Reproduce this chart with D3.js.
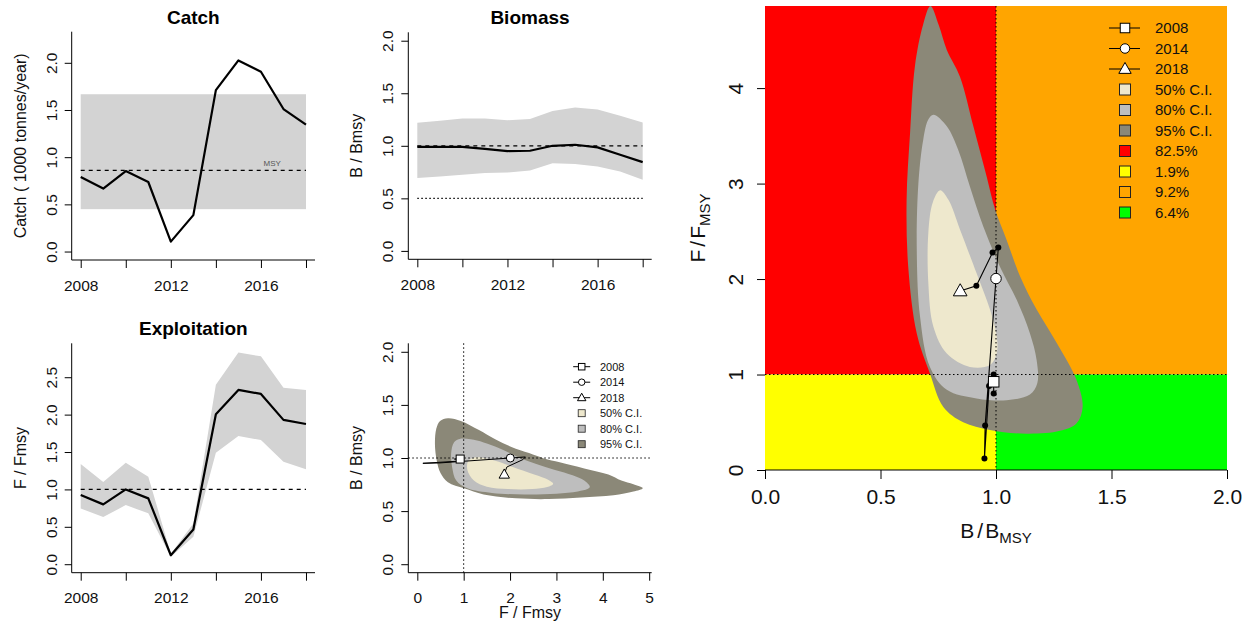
<!DOCTYPE html>
<html><head><meta charset="utf-8">
<script src="https://cdn.jsdelivr.net/npm/d3@7"></script>
<style>
html,body{margin:0;padding:0;background:#fff;}
svg{display:block;}
</style></head>
<body>
<svg id="chart" width="1250" height="623"></svg>
<script>
// ---------------- data ----------------
const years = [2008,2009,2010,2011,2012,2013,2014,2015,2016,2017,2018];
const catchVals = [0.79,0.667,0.853,0.737,0.105,0.386,1.71,2.025,1.905,1.51,1.344];
const msy = 0.86;
const msyLo = 0.449;
const msyHi = 1.667;
const bRatio = [0.99,0.99,0.99,0.97,0.95,0.953,1.0,1.01,0.985,0.915,0.845];
const bLo = [0.693,0.709,0.724,0.74,0.746,0.765,0.835,0.828,0.803,0.756,0.677];
const bHi = [1.219,1.238,1.26,1.26,1.244,1.254,1.332,1.364,1.345,1.285,1.222];
const fRatio = [0.924,0.80,1.0,0.88,0.12,0.465,2.005,2.33,2.277,1.93,1.875];
const fLo = [0.746,0.63,0.79,0.68,0.10,0.366,1.49,1.714,1.66,1.37,1.27];
const fHi = [1.34,1.10,1.357,1.17,0.14,0.545,2.40,2.83,2.78,2.36,2.33];

// Kobe confidence regions, [B/Bmsy, F/Fmsy]
const ci95 = [[0.716,4.86],[0.752,4.66],[0.787,4.40],[0.844,4.12],[0.902,3.60],[0.96,3.07],[0.996,2.73],[1.046,2.41],[1.104,2.03],[1.176,1.68],[1.263,1.33],[1.349,0.94],[1.375,0.66],[1.349,0.49],[1.277,0.41],[1.133,0.38],[0.974,0.42],[0.858,0.50],[0.772,0.66],[0.714,1.01],[0.657,1.43],[0.620,2.13],[0.613,2.83],[0.628,3.53],[0.649,4.23],[0.684,4.66]];
const ci80 = [[0.729,3.72],[0.787,3.60],[0.837,3.35],[0.887,2.97],[0.945,2.55],[1.017,2.13],[1.09,1.78],[1.147,1.43],[1.176,1.15],[1.179,0.91],[1.147,0.79],[1.046,0.73],[0.916,0.75],[0.787,0.84],[0.714,1.08],[0.671,1.61],[0.657,2.31],[0.664,3.0],[0.685,3.46],[0.707,3.67]];
const ci50 = [[0.758,2.93],[0.794,2.83],[0.844,2.52],[0.916,2.06],[0.974,1.68],[1.003,1.40],[1.003,1.22],[0.974,1.10],[0.887,1.08],[0.787,1.22],[0.729,1.50],[0.707,1.96],[0.707,2.48],[0.726,2.80]];

const markYears = [2008,2014,2018];
const markLabels = ["2008","2014","2018"];
const ciLabels = ["50% C.I.","80% C.I.","95% C.I."];
const zoneLabels = ["82.5%","1.9%","9.2%","6.4%"];

const yearTicks = [2008,2010,2012,2014,2016,2018];
const yearTickLabels = ["2008","","2012","","2016",""];
const catchTicks = [0,0.5,1,1.5,2];
const bTicks = [0,0.5,1,1.5,2];
const fTicks = [0,0.5,1,1.5,2,2.5];
const kobeFTicks = [0,1,2,3,4,5];
const bigBTicks = [0,0.5,1,1.5,2];
const bigFTicks = [0,1,2,3,4];

// ---------------- styles ----------------
const FONT = "'Liberation Sans', Arial, Helvetica, sans-serif";
const TXT = "#111";
const BAND = "#d3d3d3";
const ciColors = ["#EEE8CD","#BEBEBE","#8B8878"];
const zoneColors = ["#FF0000","#FFFF00","#FFA500","#00FF00"];

const svg = d3.select("#chart");
const expand = d => { const r = d[1]-d[0]; return [d[0]-0.04*r, d[1]+0.04*r]; };
const fmt1 = d3.format(".1f");

function makeScales(p, xd, yd){
  return { x: d3.scaleLinear().domain(xd).range([p.x0,p.x1]),
           y: d3.scaleLinear().domain(yd).range([p.y1,p.y0]) };
}
function lBox(p){
  svg.append("path").attr("d",`M${p.x0},${p.y0}V${p.y1}H${p.x1}`)
    .attr("fill","none").attr("stroke","#000").attr("stroke-width",1);
}
function bottomAxis(s,p,vals,labels,fs,off,len){
  const ax = d3.axisBottom(s.x).tickValues(vals).tickFormat((d,i)=>labels[i]).tickSize(len).tickSizeOuter(0);
  const g = svg.append("g").attr("transform",`translate(0,${p.y1})`).call(ax);
  g.select(".domain").remove();
  g.selectAll(".tick line").attr("stroke","#000");
  g.selectAll(".tick text").attr("y",off).attr("dy",null).attr("font-size",fs)
    .attr("font-family",FONT).attr("fill",TXT);
  return g;
}
function leftAxis(s,p,vals,labels,fs,off,len){
  const ax = d3.axisLeft(s.y).tickValues(vals).tickFormat((d,i)=>labels[i]).tickSize(len).tickSizeOuter(0);
  const g = svg.append("g").attr("transform",`translate(${p.x0},0)`).call(ax);
  g.select(".domain").remove();
  g.selectAll(".tick line").attr("stroke","#000");
  g.selectAll(".tick text").attr("x",null).attr("dy",null).attr("text-anchor","middle")
    .attr("transform",`translate(${-off},0) rotate(-90)`)
    .attr("font-size",fs).attr("font-family",FONT).attr("fill",TXT);
  return g;
}
function label(x,y,str,fs,opts={}){
  const t = svg.append("text").attr("x",x).attr("y",y).text(str)
    .attr("font-size",fs).attr("font-family",FONT).attr("fill",opts.fill||TXT)
    .attr("text-anchor",opts.anchor||"middle");
  if(opts.bold) t.attr("font-weight","bold");
  if(opts.rotate) t.attr("transform",`rotate(-90,${x},${y})`);
  return t;
}
function hline(s,y,x0,x1,dash,w){
  svg.append("line").attr("x1",s.x(x0)).attr("x2",s.x(x1)).attr("y1",s.y(y)).attr("y2",s.y(y))
    .attr("stroke","#000").attr("stroke-width",w||1).attr("stroke-dasharray",dash);
}
function marker(g,type,x,y,sz){
  if(type==="square"){
    g.append("rect").attr("x",x-sz/2).attr("y",y-sz/2).attr("width",sz).attr("height",sz)
      .attr("fill","#fff").attr("stroke","#000").attr("stroke-width",1);
  } else if(type==="circle"){
    g.append("circle").attr("cx",x).attr("cy",y).attr("r",sz/2)
      .attr("fill","#fff").attr("stroke","#000").attr("stroke-width",1);
  } else {
    const w = sz*1.3, h = sz*1.15;
    g.append("path").attr("d",`M${x},${y-h*0.6}L${x+w/2},${y+h*0.4}L${x-w/2},${y+h*0.4}Z`)
      .attr("fill","#fff").attr("stroke","#000").attr("stroke-width",1);
  }
}
const markTypes = ["square","circle","triangle"];

// ================= Catch =================
{
  const p = {x0:71.7,x1:315,y0:31.7,y1:260};
  const s = makeScales(p, expand([2008,2018]), expand([0,2.24]));
  svg.append("rect").attr("x",s.x(years[0])).attr("width",s.x(years[years.length-1])-s.x(years[0]))
    .attr("y",s.y(msyHi)).attr("height",s.y(msyLo)-s.y(msyHi)).attr("fill",BAND);
  hline(s,msy,years[0],years[years.length-1],"4,4",1.2);
  label(s.x(2016.5), s.y(msy)-4, "MSY", 8, {fill:"#555"});
  svg.append("path").datum(catchVals)
    .attr("d", d3.line().x((d,i)=>s.x(years[i])).y(d=>s.y(d)))
    .attr("fill","none").attr("stroke","#000").attr("stroke-width",2.2).attr("stroke-linejoin","round");
  lBox(p);
  bottomAxis(s,p,yearTicks,yearTickLabels,15.5,30.5,8);
  leftAxis(s,p,catchTicks,catchTicks.map(fmt1),15.5,15,7);
  label((p.x0+p.x1)/2, 24, "Catch", 19, {bold:true, fill:"#000"});
  label(26, (p.y0+p.y1)/2, "Catch ( 1000 tonnes/year)", 16, {rotate:true});
}

// ================= Biomass =================
{
  const p = {x0:408.3,x1:651.7,y0:32.3,y1:259.3};
  const s = makeScales(p, expand([2008,2018]), expand([0,2]));
  svg.append("path").datum(years)
    .attr("d", d3.area().x(d=>s.x(d)).y0((d,i)=>s.y(bLo[i])).y1((d,i)=>s.y(bHi[i])))
    .attr("fill",BAND);
  hline(s,1,years[0],years[years.length-1],"4,4",1.2);
  hline(s,0.5,years[0],years[years.length-1],"1.5,2.5",1.2);
  svg.append("path").datum(bRatio)
    .attr("d", d3.line().x((d,i)=>s.x(years[i])).y(d=>s.y(d)))
    .attr("fill","none").attr("stroke","#000").attr("stroke-width",2.2).attr("stroke-linejoin","round");
  lBox(p);
  bottomAxis(s,p,yearTicks,yearTickLabels,15.5,30.5,8);
  leftAxis(s,p,bTicks,bTicks.map(fmt1),15.5,15,7);
  label((p.x0+p.x1)/2, 24, "Biomass", 19, {bold:true, fill:"#000"});
  label(362, (p.y0+p.y1)/2, "B / Bmsy", 16, {rotate:true});
}

// ================= Exploitation =================
{
  const p = {x0:71.7,x1:315,y0:343.3,y1:572.7};
  const s = makeScales(p, expand([2008,2018]), expand([0,2.84]));
  svg.append("path").datum(years)
    .attr("d", d3.area().x(d=>s.x(d)).y0((d,i)=>s.y(fLo[i])).y1((d,i)=>s.y(fHi[i])))
    .attr("fill",BAND);
  hline(s,1,years[0],years[years.length-1],"4,4",1.2);
  svg.append("path").datum(fRatio)
    .attr("d", d3.line().x((d,i)=>s.x(years[i])).y(d=>s.y(d)))
    .attr("fill","none").attr("stroke","#000").attr("stroke-width",2.2).attr("stroke-linejoin","round");
  lBox(p);
  bottomAxis(s,p,yearTicks,yearTickLabels,15.5,30,8);
  leftAxis(s,p,fTicks,fTicks.map(fmt1),15.5,15,7);
  label((p.x0+p.x1)/2, 335, "Exploitation", 19, {bold:true, fill:"#000"});
  label(26, (p.y0+p.y1)/2, "F / Fmsy", 16, {rotate:true});
}

// ================= Small Kobe (x = F, y = B) =================
{
  const p = {x0:408.3,x1:651.7,y0:343.3,y1:572.7};
  const s = makeScales(p, expand([0,4.86]), expand([0,2]));
  const poly = d3.line().x(d=>s.x(d[1])).y(d=>s.y(d[0])).curve(d3.curveCatmullRomClosed);
  [ci95,ci80,ci50].forEach((c,k)=>{
    svg.append("path").attr("d",poly(c)).attr("fill",ciColors[2-k]).attr("stroke","none");
  });
  svg.append("line").attr("x1",s.x(1)).attr("x2",s.x(1)).attr("y1",p.y0).attr("y2",p.y1)
    .attr("stroke","#000").attr("stroke-dasharray","1.5,2.5");
  svg.append("line").attr("x1",p.x0).attr("x2",p.x1).attr("y1",s.y(1)).attr("y2",s.y(1))
    .attr("stroke","#000").attr("stroke-dasharray","1.5,2.5");
  svg.append("path").datum(years)
    .attr("d", d3.line().x((d,i)=>s.x(fRatio[i])).y((d,i)=>s.y(bRatio[i])))
    .attr("fill","none").attr("stroke","#000").attr("stroke-width",1);
  const gm = svg.append("g");
  markYears.forEach((yr,k)=>{
    const i = years.indexOf(yr);
    marker(gm, markTypes[k], s.x(fRatio[i]), s.y(bRatio[i]), 8);
  });
  lBox(p);
  bottomAxis(s,p,kobeFTicks,kobeFTicks.map(String),15.5,30,8);
  leftAxis(s,p,bTicks,bTicks.map(fmt1),15.5,15,7);
  label(362, (p.y0+p.y1)/2, "B / Bmsy", 16, {rotate:true});
  label((p.x0+p.x1)/2, 617.5, "F / Fmsy", 16);
  // legend
  const lg = svg.append("g");
  const lx = 581.7, ly0 = 366.7, step = 15.5;
  markLabels.forEach((t,k)=>{
    const y = ly0 + k*step;
    lg.append("line").attr("x1",lx-8.5).attr("x2",lx+8.5).attr("y1",y).attr("y2",y).attr("stroke","#000");
    marker(lg, markTypes[k], lx, y, 6.5);
    lg.append("text").attr("x",600).attr("y",y+4).text(t).attr("font-size",11).attr("font-family",FONT).attr("fill",TXT);
  });
  ciLabels.forEach((t,k)=>{
    const y = ly0 + (k+3)*step;
    lg.append("rect").attr("x",lx-3.5).attr("y",y-3.5).attr("width",7).attr("height",7)
      .attr("fill",ciColors[k]).attr("stroke","#222").attr("stroke-width",0.8);
    lg.append("text").attr("x",600).attr("y",y+4).text(t).attr("font-size",11).attr("font-family",FONT).attr("fill",TXT);
  });
}

// ================= Big Kobe (x = B, y = F) =================
{
  const p = {x0:765,x1:1227,y0:6,y1:470};
  const s = makeScales(p, [0,2], [0,4.86]);
  svg.append("defs").append("clipPath").attr("id","bigclip").append("rect")
    .attr("x",p.x0).attr("y",p.y0).attr("width",p.x1-p.x0).attr("height",p.y1-p.y0);
  const g = svg.append("g").attr("clip-path","url(#bigclip)");
  const bMax = 2, fMax = 4.86;
  const zones = [[0,1,1,fMax],[0,1,0,1],[1,bMax,1,fMax],[1,bMax,0,1]];
  zones.forEach((z,k)=>{
    g.append("rect").attr("x",s.x(z[0])).attr("width",s.x(z[1])-s.x(z[0]))
      .attr("y",s.y(z[3])).attr("height",s.y(z[2])-s.y(z[3])).attr("fill",zoneColors[k]);
  });
  const poly = d3.line().x(d=>s.x(d[0])).y(d=>s.y(d[1])).curve(d3.curveCatmullRomClosed);
  [ci95,ci80,ci50].forEach((c,k)=>{
    g.append("path").attr("d",poly(c)).attr("fill",ciColors[2-k]).attr("stroke","none");
  });
  g.append("line").attr("x1",s.x(1)).attr("x2",s.x(1)).attr("y1",p.y0).attr("y2",p.y1)
    .attr("stroke","#000").attr("stroke-dasharray","1.5,2.5");
  g.append("line").attr("x1",p.x0).attr("x2",p.x1).attr("y1",s.y(1)).attr("y2",s.y(1))
    .attr("stroke","#000").attr("stroke-dasharray","1.5,2.5");
  g.append("path").datum(years)
    .attr("d", d3.line().x((d,i)=>s.x(bRatio[i])).y((d,i)=>s.y(fRatio[i])))
    .attr("fill","none").attr("stroke","#000").attr("stroke-width",1.1);
  g.selectAll("circle.dot").data(years).enter().append("circle").attr("class","dot")
    .attr("cx",(d,i)=>s.x(bRatio[i])).attr("cy",(d,i)=>s.y(fRatio[i])).attr("r",3).attr("fill","#000");
  markYears.forEach((yr,k)=>{
    const i = years.indexOf(yr);
    marker(g, markTypes[k], s.x(bRatio[i]), s.y(fRatio[i]), 10.5);
  });
  // x axis line + ticks
  bottomAxis(s,p,bigBTicks,bigBTicks.map(fmt1),21,33.5,9);
  svg.append("line").attr("x1",s.x(0)).attr("x2",s.x(2)).attr("y1",p.y1).attr("y2",p.y1).attr("stroke","#000");
  leftAxis(s,p,bigFTicks,bigFTicks.map(String),21,22.5,8);
  // axis titles
  const xt = svg.append("text").attr("x",996).attr("y",537.5).attr("text-anchor","middle")
    .attr("font-family",FONT).attr("font-size",21).attr("fill",TXT);
  xt.append("tspan").text("B");
  xt.append("tspan").attr("dx",3).text("/");
  xt.append("tspan").attr("dx",2).text("B");
  xt.append("tspan").attr("dy",5).attr("font-size",15).text("MSY");
  const yt = svg.append("text").attr("transform","translate(705,228) rotate(-90)").attr("text-anchor","middle")
    .attr("font-family",FONT).attr("font-size",21).attr("fill",TXT);
  yt.append("tspan").text("F");
  yt.append("tspan").attr("dx",3).text("/");
  yt.append("tspan").attr("dx",2).text("F");
  yt.append("tspan").attr("dy",5).attr("font-size",15).text("MSY");
  // legend
  const lg = svg.append("g");
  const lx = 1125, ly0 = 28, step = 20.5, tx = 1155;
  markLabels.forEach((t,k)=>{
    const y = ly0 + k*step;
    lg.append("line").attr("x1",lx-16).attr("x2",lx+15).attr("y1",y).attr("y2",y).attr("stroke","#000");
    marker(lg, markTypes[k], lx, y, 9.5);
    lg.append("text").attr("x",tx).attr("y",y+5.4).text(t).attr("font-size",15).attr("font-family",FONT).attr("fill",TXT);
  });
  ciLabels.forEach((t,k)=>{
    const y = ly0 + (k+3)*step;
    lg.append("rect").attr("x",lx-5.5).attr("y",y-5.5).attr("width",11).attr("height",11)
      .attr("fill",ciColors[k]).attr("stroke","#222").attr("stroke-width",1);
    lg.append("text").attr("x",tx).attr("y",y+5.4).text(t).attr("font-size",15).attr("font-family",FONT).attr("fill",TXT);
  });
  zoneLabels.forEach((t,k)=>{
    const y = ly0 + (k+6)*step;
    lg.append("rect").attr("x",lx-5.5).attr("y",y-5.5).attr("width",11).attr("height",11)
      .attr("fill",zoneColors[k]).attr("stroke","#222").attr("stroke-width",1);
    lg.append("text").attr("x",tx).attr("y",y+5.4).text(t).attr("font-size",15).attr("font-family",FONT).attr("fill",TXT);
  });
}
</script>
</body></html>
